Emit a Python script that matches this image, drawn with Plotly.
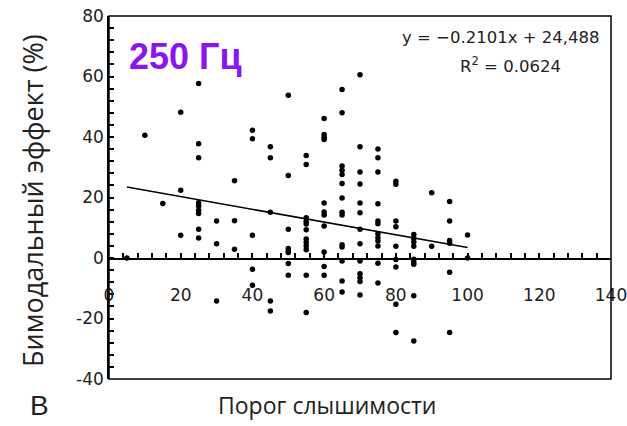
import plotly.graph_objects as go

# hearing threshold levels (x) and the bimodal effect values (%) found at each level
levels = [5, 10, 15, 20, 25, 30, 35, 40, 45, 50, 55, 60, 65, 70, 75, 80, 85, 90, 95, 100]
effects = [
    [0.0],
    [40.6],
    [18.0],
    [48.2, 22.4, 7.5],
    [57.7, 37.8, 33.1, 18.3, 17.2, 15.8, 14.7, 9.5, 6.6],
    [12.2, 4.7, -14.2],
    [25.5, 12.3, 2.9],
    [42.2, 39.4, 7.5, -3.7, -9.0],
    [36.8, 33.1, 15.1, -14.2, -17.5],
    [53.8, 27.3, 9.5, 3.1, 2.3, 1.8, -1.8, -5.7],
    [33.9, 30.9, 13.3, 12.1, 11.2, 9.3, 6.3, 5.1, 4.0, 2.7, -5.7, -18.0],
    [46.1, 40.8, 39.9, 39.2, 18.2, 15.2, 14.2, 10.6, 2.0, -2.8, -5.7],
    [55.7, 48.0, 30.4, 29.0, 27.6, 24.6, 19.8, 15.1, 14.2, 4.4, 3.6, -1.0, -7.6, -11.2],
    [60.6, 36.8, 28.4, 24.5, 18.2, 15.0, 9.5, 4.7, -1.0, -5.2, -6.5, -7.8, -12.2],
    [36.0, 33.1, 28.4, 17.9, 12.2, 11.3, 8.0, 6.7, 5.6, 4.0, -1.7, -8.3],
    [25.4, 24.4, 12.2, 10.3, 3.9, -0.5, -3.0, -15.3, -24.6],
    [7.8, 6.5, 5.3, 3.9, -0.4, -1.3, -2.1, -12.5, -27.4],
    [21.6, 3.9],
    [18.7, 12.2, 5.8, 4.9, -4.7, -24.6],
    [7.6, 0.0],
]

# linear trend line
slope = -0.2101
intercept = 24.488
fit_x = [5, 100]

x_range = [0, 140]
y_range = [-40, 80]
x_label_vals = [0, 20, 40, 60, 80, 100, 120, 140]
y_label_vals = [-40, -20, 0, 20, 40, 60, 80]
y_label_text = ["-40", "-20", "0", "20", "40", "60", "80"]
tick_step = 4   # every tick mark, labelled or not

x_pts = [lv for lv, ys in zip(levels, effects) for _ in ys]
y_pts = [y for ys in effects for y in ys]
fit_y = [slope * v + intercept for v in fit_x]

# y ticks every 4 units, text only at the labelled values
y_tick_vals = list(range(y_range[0], y_range[1] + 1, tick_step))
lab = dict(zip(y_label_vals, y_label_text))
y_tick_text = [lab.get(v, "") for v in y_tick_vals]

W, H = 627, 426
L, R, T, B = 109, 16, 16, 47
PW, PH = W - L - R, H - T - B


def px(x):
    return (x - L) / PW


def py(y):
    return (H - B - y) / PH


zero_frac = (0 - y_range[0]) / (y_range[1] - y_range[0])   # where y = 0 sits in the plot
label_frac = py(283)                                        # line that carries the x labels

fig = go.Figure()
fig.add_trace(go.Scatter(x=fit_x, y=fit_y, mode="lines",
                         line=dict(color="black", width=1.5), hoverinfo="skip"))
fig.add_trace(go.Scatter(x=x_pts, y=y_pts, mode="markers",
                         marker=dict(color="black", size=5.5, line=dict(width=0))))
# invisible helper traces so the zero-line axis and the label axis get their subplots
for xa, ya in (("x2", "y2"), ("x3", "y3")):
    fig.add_trace(go.Scatter(x=fit_x, y=fit_y, xaxis=xa, yaxis=ya, mode="lines",
                             opacity=0, hoverinfo="skip", showlegend=False))

tickfont = dict(family="DejaVu Sans", size=17, color="#222")
hidden_y = dict(range=[0, 1], visible=False, showgrid=False, zeroline=False,
                fixedrange=True, automargin=False)

fig.update_layout(
    width=W, height=H,
    margin=dict(l=L, r=R, t=T, b=B, autoexpand=False),
    plot_bgcolor="rgba(0,0,0,0)", paper_bgcolor="white",
    showlegend=False,
    xaxis=dict(range=x_range, anchor="y", showline=False, ticks="", automargin=False,
               showticklabels=False, showgrid=False, zeroline=False),
    yaxis=dict(
        range=y_range, anchor="x", automargin=False,
        showline=True, linecolor="black", linewidth=1.5,
        tickmode="array", tickvals=y_tick_vals, ticktext=y_tick_text,
        ticks="inside", ticklen=5, tickcolor="black", tickwidth=1.5,
        showgrid=False, zeroline=False, tickfont=tickfont,
    ),
    xaxis2=dict(
        range=x_range, anchor="y2", domain=[0, 1], automargin=False,
        showline=True, linecolor="black", linewidth=1.5,
        tickmode="linear", tick0=0, dtick=tick_step,
        ticks="inside", ticklen=5, tickcolor="black", tickwidth=1.5,
        showticklabels=False, showgrid=False, zeroline=False,
    ),
    yaxis2=dict(domain=[zero_frac, 1], anchor="x2", **hidden_y),
    xaxis3=dict(
        range=x_range, anchor="y3", domain=[0, 1], automargin=False,
        showline=False, ticks="", tickmode="array", tickvals=x_label_vals,
        showgrid=False, zeroline=False, tickfont=tickfont,
        ticklabeloverflow="allow",
    ),
    yaxis3=dict(domain=[label_frac, 1], anchor="x3", **hidden_y),
    shapes=[dict(type="rect", xref="paper", yref="paper", x0=0, x1=1, y0=0, y1=1,
                 line=dict(color="black", width=1.5))],
)

ann = [
    dict(text="<b>250 Гц</b>", x=px(127), y=py(56), xanchor="left", yanchor="middle",
         font=dict(family="Liberation Sans", size=36, color="#8a14f2")),
    dict(text="y = −0.2101x + 24,488", x=px(500), y=py(37), xanchor="center", yanchor="middle",
         font=dict(family="DejaVu Sans", size=16.5, color="#222")),
    dict(text="R<sup>2</sup> = 0.0624", x=px(510), y=py(65), xanchor="center", yanchor="middle",
         font=dict(family="DejaVu Sans", size=16.5, color="#222")),
    dict(text="Бимодальный эффект (%)", x=px(33), y=py(201), textangle=-90,
         xanchor="center", yanchor="middle",
         font=dict(family="Open Sans", size=27, color="#222")),
    dict(text="Порог слышимости", x=px(327), y=py(405), xanchor="center", yanchor="middle",
         font=dict(family="Open Sans", size=23, color="#222")),
    dict(text="В", x=px(39), y=py(405), xanchor="center", yanchor="middle",
         font=dict(family="Liberation Sans", size=28, color="#222")),
]
for a in ann:
    a.update(xref="paper", yref="paper", showarrow=False)
fig.update_layout(annotations=ann)

fig.write_html("out.html")
